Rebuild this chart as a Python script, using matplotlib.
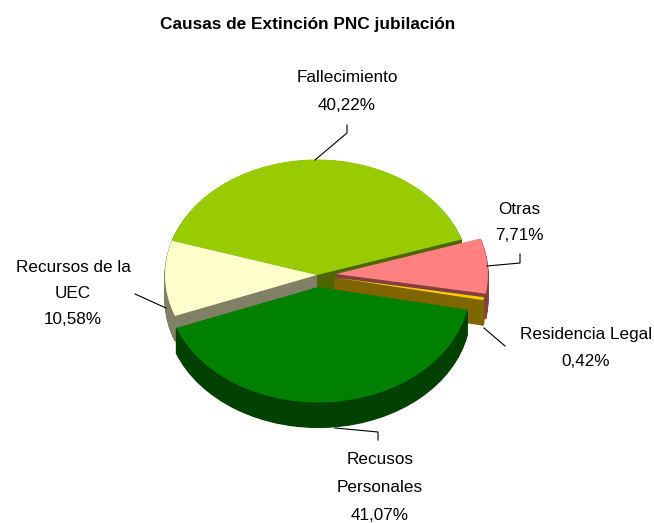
import matplotlib
matplotlib.use('Agg')
import matplotlib.pyplot as plt

plt.rcParams['font.family'] = ['Liberation Sans', 'DejaVu Sans']

# data
categories = ['Fallecimiento', 'Otras', 'Residencia Legal', 'Recusos\nPersonales', 'Recursos de la\nUEC']
values = [40.22, 7.71, 0.42, 41.07, 10.58]
title = 'Causas de Extinción PNC jubilación'

top_colors = ['#99CC00', '#FF8080', '#FFCC00', '#008000', '#FFFFCC']
side_colors = ['#4D6600', '#804040', '#806600', '#004000', '#808066']
explode = [0, 0.125, 0.115, 0.104, 0]
# back to front
draw_rank = [0, 2, 3, 4, 1]

W, H = 654, 523
rx, ry = 152.0, 115.5  # pixel size of one pie radius
cx, cy = 317, 275  # pie centre in pixels
depth_px = 25

fig = plt.figure(figsize=(W / 100, H / 100), dpi=100)
ax = fig.add_axes([0, 0, 1, 1])


def px(x, y):
    return x / W, 1 - y / H


# stack the pie on itself to get the 3d walls
for d in range(depth_px, -1, -1):
    colors = top_colors if d == 0 else side_colors
    wedges, _ = ax.pie(values, explode=explode, colors=colors, startangle=162.7,
                       counterclock=False, center=(0, -d / ry), radius=1,
                       wedgeprops={'linewidth': 0})
    for w, rank, c in zip(wedges, draw_rank, colors):
        w.set_zorder(rank * 100 + (depth_px - d))
        # thin edge on the walls, otherwise the slice behind leaks through
        if d > 0:
            w.set_edgecolor(c)
            w.set_linewidth(0.8)

ax.set_aspect('auto')
ax.set_xlim(-cx / rx, (W - cx) / rx)
ax.set_ylim(-(H - cy) / ry, cy / ry)
ax.axis('off')

# leader lines
leaders = [
    [(347, 125), (347, 133), (315, 160)],
    [(520, 254), (520, 263), (487, 266)],
    [(484, 328), (505, 346)],
    [(378, 440), (378, 432), (335, 428)],
    [(135, 294), (166, 308)],
]
for pts in leaders:
    xy = [px(*p) for p in pts]
    ax.plot([p[0] for p in xy], [p[1] for p in xy], color='black', lw=0.8,
            transform=ax.transAxes, clip_on=False, zorder=1000)

# label positions, last line is the percentage
label_pos = [(347, 77, 28), (519, 210, 25), (586, 334, 27), (380, 460, 27.5), (73, 268, 25.5)]
for cat, v, (x, y, step) in zip(categories, values, label_pos):
    lines = cat.split('\n') + [f'{v:.2f}%'.replace('.', ',')]
    for i, line in enumerate(lines):
        fx, fy = px(x, y + i * step)
        ax.text(fx, fy, line, transform=ax.transAxes, ha='center', va='center',
                fontsize=12.3, color='black', zorder=1001)

fx, fy = px(308, 24)
ax.text(fx, fy, title, transform=ax.transAxes, ha='center', va='center',
        fontsize=12.4, fontweight='bold', color='black', zorder=1001)

fig.savefig('out.png', dpi=100)
